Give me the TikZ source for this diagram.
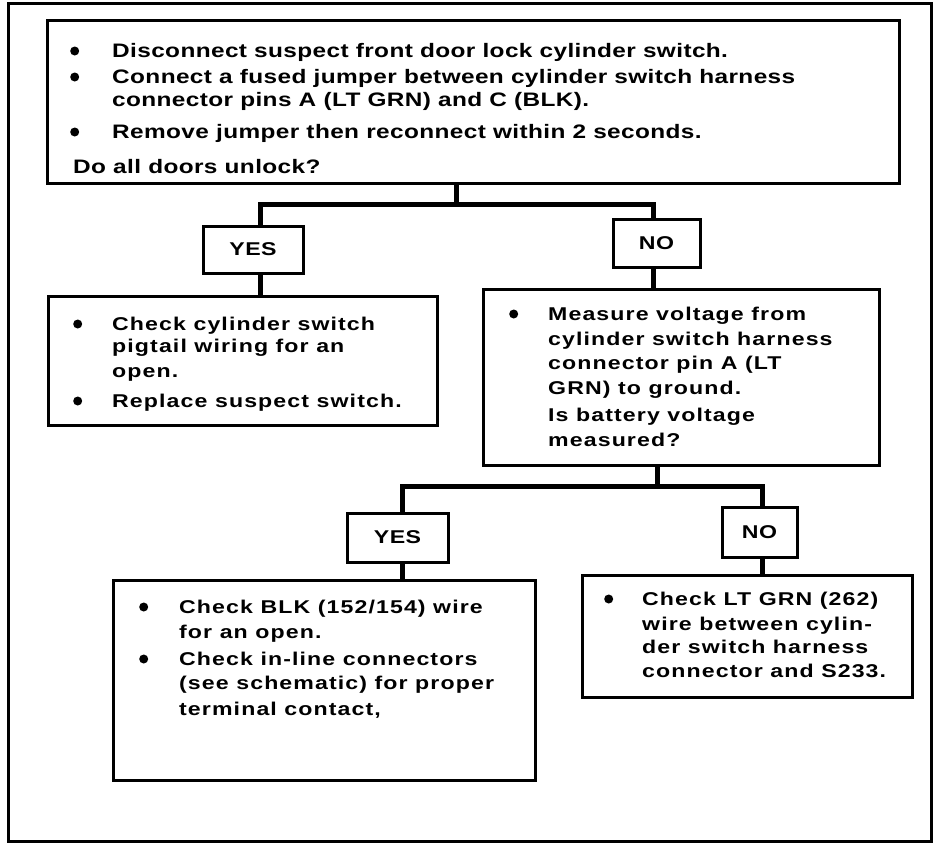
\documentclass[tikz,border=0pt]{standalone}
\usepackage{fontspec}
\newfontfamily\topfont{Liberation Sans}[FakeStretch=1.25,LetterSpace=2]
\newfontfamily\lowfont{Liberation Sans}[FakeStretch=1.25,LetterSpace=6]
\begin{document}
\begin{tikzpicture}[x=1pt,y=-1pt,
  box/.style={draw,line width=3pt,outer sep=0pt,inner sep=0pt},
  conn/.style={line width=5pt},
  dot/.style={circle,fill,inner sep=0pt,minimum size=9pt,anchor=west},
  ttop/.style={anchor=base west,inner sep=0pt,font=\topfont\bfseries\fontsize{19.5}{23}\selectfont},
  tlow/.style={anchor=base west,inner sep=0pt,font=\lowfont\bfseries\fontsize{18.5}{22}\selectfont},
  lab/.style={anchor=center,inner sep=0pt,font=\topfont\bfseries\fontsize{18.5}{22}\selectfont}]
\useasboundingbox (0,0) rectangle (944,846);
% outer frame
\draw[line width=3pt] (8,3) rectangle (931,841);
% boxes
\node[box,minimum width=852pt,minimum height=163pt] (q1) at (473,101.5) {};
\node[box,minimum width=100pt,minimum height=47pt] (yes1) at (253,249.5) {};
\node[box,minimum width=87pt,minimum height=48pt] (no1) at (656.5,243) {};
\node[box,minimum width=389pt,minimum height=129pt] (a1) at (242.5,360.5) {};
\node[box,minimum width=396pt,minimum height=176pt] (q2) at (681,377) {};
\node[box,minimum width=101pt,minimum height=49pt] (yes2) at (397.5,537.5) {};
\node[box,minimum width=75pt,minimum height=50pt] (no2) at (759.5,532) {};
\node[box,minimum width=422pt,minimum height=200pt] (a2) at (324,680) {};
\node[box,minimum width=330pt,minimum height=122pt] (a3) at (747,636) {};
% labels
\node[lab] (ly1) at (yes1.center) {YES};
\node[lab] (ln1) at (no1.center) {NO};
\node[lab] (ly2) at (yes2.center) {YES};
\node[lab] (ln2) at (no2.center) {NO};
% connector coordinates
\coordinate (j1) at (456,204);
\coordinate (c1) at (260,204);
\coordinate (c2) at (653,204);
\coordinate (j2) at (657,486);
\coordinate (c3) at (402,486);
\coordinate (c4) at (762,486);
% connectors
\draw[conn] (q1.south -| j1) -- (j1);
\draw[conn] (yes1.north -| c1) |- (c2) -- (no1.north -| c2);
\draw[conn] (yes1.south -| c1) -- (a1.north -| c1);
\draw[conn] (no1.south -| c2) -- (q2.north -| c2);
\draw[conn] (q2.south -| j2) -- (j2);
\draw[conn] (yes2.north -| c3) |- (c4) -- (no2.north -| c4);
\draw[conn] (yes2.south -| c3) -- (a2.north -| c3);
\draw[conn] (no2.south -| c4) -- (a3.north -| c4);
% top box text
\node[dot] (b11) at (70,51) {};
\node[ttop] (t11) at (112,57) {Disconnect suspect front door lock cylinder switch.};
\node[dot] (b12) at (70,77) {};
\node[ttop] (t12) at (112,83) {Connect a fused jumper between cylinder switch harness};
\node[ttop] (t13) at (112,106) {connector pins A (LT GRN) and C (BLK).};
\node[dot] (b14) at (70,132) {};
\node[ttop] (t14) at (112,138) {Remove jumper then reconnect within 2 seconds.};
\node[ttop] (t15) at (73,173) {Do all doors unlock?};
% left box text
\node[dot] (b21) at (73,324) {};
\node[tlow] (t21) at (112,330) {Check cylinder switch};
\node[tlow] (t22) at (112,352) {pigtail wiring for an};
\node[tlow] (t23) at (112,377) {open.};
\node[dot] (b24) at (73,401) {};
\node[tlow] (t24) at (112,407) {Replace suspect switch.};
% right box text
\node[dot] (b31) at (509,314) {};
\node[tlow] (t31) at (548,320) {Measure voltage from};
\node[tlow] (t32) at (548,345) {cylinder switch harness};
\node[tlow] (t33) at (548,369) {connector pin A (LT};
\node[tlow] (t34) at (548,394) {GRN) to ground.};
\node[tlow] (t35) at (548,421) {Is battery voltage};
\node[tlow] (t36) at (548,446) {measured?};
% lower left box text
\node[dot] (b41) at (139,607) {};
\node[tlow] (t41) at (179,613) {Check BLK (152/154) wire};
\node[tlow] (t42) at (179,638) {for an open.};
\node[dot] (b43) at (139,659) {};
\node[tlow] (t43) at (179,665) {Check in-line connectors};
\node[tlow] (t44) at (179,689) {(see schematic) for proper};
\node[tlow] (t45) at (179,715) {terminal contact,};
% lower right box text
\node[dot] (b51) at (604,599) {};
\node[tlow] (t51) at (642,605) {Check LT GRN (262)};
\node[tlow] (t52) at (642,630) {wire between cylin-};
\node[tlow] (t53) at (642,653) {der switch harness};
\node[tlow] (t54) at (642,677) {connector and S233.};
\end{tikzpicture}
\end{document}
